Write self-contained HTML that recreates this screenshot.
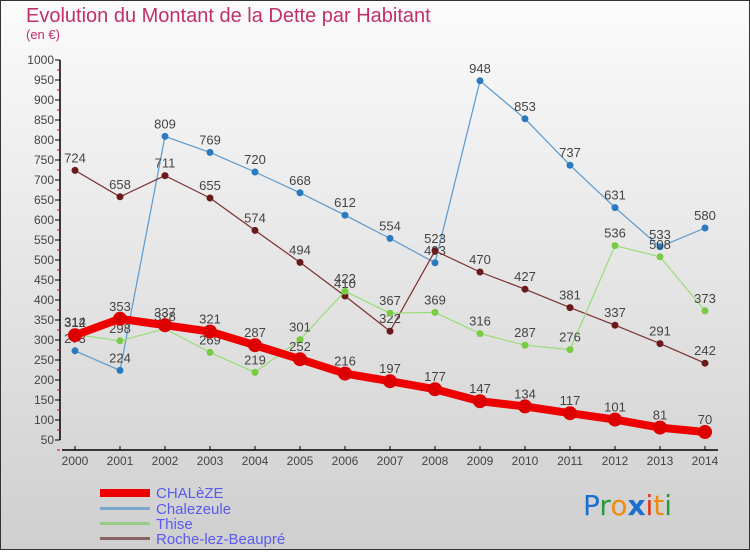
<!DOCTYPE html>
<html><head><meta charset="utf-8"><style>
html,body{margin:0;padding:0}
body{width:750px;height:550px;overflow:hidden;font-family:"Liberation Sans",sans-serif}
</style></head><body>
<svg id="chart" width="750" height="550" viewBox="0 0 750 550" xmlns="http://www.w3.org/2000/svg">
<defs><linearGradient id="bg" x1="0" y1="0" x2="0" y2="1"><stop offset="0" stop-color="#fbfbfb"/><stop offset="1" stop-color="#cfcfcf"/></linearGradient></defs>
<rect x="0.5" y="0.5" width="749" height="549" fill="url(#bg)" stroke="#333" stroke-width="1"/>
<text x="26" y="22" font-size="20" fill="#c0306a">Evolution du Montant de la Dette par Habitant</text>
<text x="26" y="39" font-size="13" fill="#c0306a">(en €)</text>
<g id="axes"></g>
<g id="series"></g>
<g id="legend">
<rect x="100" y="489" width="50" height="8" fill="#e00"/>
<text x="156" y="498" font-size="15" fill="#5a5af0">CHALèZE</text>
<rect x="100" y="507" width="50" height="3" fill="#7aa8c8"/>
<text x="156" y="514" font-size="15" fill="#5a5af0">Chalezeule</text>
<rect x="100" y="522" width="50" height="3" fill="#99cc88"/>
<text x="156" y="529" font-size="15" fill="#5a5af0">Thise</text>
<rect x="100" y="537" width="50" height="3" fill="#8a6060"/>
<text x="156" y="544" font-size="15" fill="#5a5af0">Roche-lez-Beaupré</text>
</g>
<text x="583" y="515" font-size="28" font-family="'DejaVu Sans',sans-serif"><tspan fill="#1a6fd0">P</tspan><tspan fill="#2a9a3a">r</tspan><tspan fill="#f08a10">o</tspan><tspan fill="#1a6fd0" font-weight="bold">x</tspan><tspan fill="#e83010">i</tspan><tspan fill="#f08a10">t</tspan><tspan fill="#2a9a3a">i</tspan></text>
</svg>
<script>
const years=[2000,2001,2002,2003,2004,2005,2006,2007,2008,2009,2010,2011,2012,2013,2014];
const chaleze=[312,353,337,321,287,252,216,197,177,147,134,117,101,81,70];
const chalezeule=[273,224,809,769,720,668,612,554,493,948,853,737,631,533,580];
const thise=[314,298,328,269,219,301,422,367,369,316,287,276,536,508,373];
const roche=[724,658,711,655,574,494,410,322,523,470,427,381,337,291,242];
const yTicks=[50,100,150,200,250,300,350,400,450,500,550,600,650,700,750,800,850,900,950,1000];
const NS='http://www.w3.org/2000/svg';
const X=i=>75+45*i;
const Y=v=>440-(v-50)*0.4;
function mk(tag,attrs,parent){const e=document.createElementNS(NS,tag);for(const k in attrs)e.setAttribute(k,attrs[k]);parent.appendChild(e);return e;}
const axes=document.getElementById('axes');
let yl=mk('line',{x1:60,y1:Y(1000),x2:60,y2:Y(50),stroke:'#000','stroke-width':1.5},axes);


yTicks.forEach(v=>{
  mk('line',{x1:55,y1:Y(v),x2:60,y2:Y(v),stroke:'#000'},axes);
  mk('line',{x1:57,y1:Y(v)+10,x2:60,y2:Y(v)+10,stroke:'#e00'},axes);
  const t=mk('text',{x:54,y:Y(v)+4,'font-size':12,fill:'#444','text-anchor':'end'},axes);
  t.textContent=v;
  
  
});
let xl=mk('line',{x1:62,y1:450,x2:718,y2:450,stroke:'#000','stroke-width':1.5},axes);


years.forEach((y,i)=>{
  mk('line',{x1:X(i),y1:446,x2:X(i),y2:450,stroke:'#000'},axes);
  const t=mk('text',{x:X(i),y:465,'font-size':12,fill:'#444','text-anchor':'middle'},axes);
  t.textContent=y;
  
  
});
const sg=document.getElementById('series');
function series(vals,name,color,dot,w,r){
  const g=mk('g',{},sg);
  
  
  mk('polyline',{points:vals.map((v,i)=>X(i)+','+Y(v)).join(' '),fill:'none',stroke:color,'stroke-width':w,'stroke-linejoin':'round'},g);
  vals.forEach((v,i)=>{
    const c=mk('circle',{cx:X(i),cy:Y(v),r:r,fill:dot},g);
    
    
    const t=mk('text',{x:X(i),y:Y(v)-8,'font-size':13,fill:'#444','text-anchor':'middle'},g);
    t.textContent=v;
    
    
  });
}
series(chalezeule,'chalezeule','#5a9ad0','#2a7ac0',1.2,3.5);
series(roche,'roche','#7a3030','#6a1a1a',1.2,3.5);
series(thise,'thise','#99dd77','#77cc44',1.2,3.5);
series(chaleze,'chaleze','#ee0000','#dd0000',8,7);
</script>
</body></html>
